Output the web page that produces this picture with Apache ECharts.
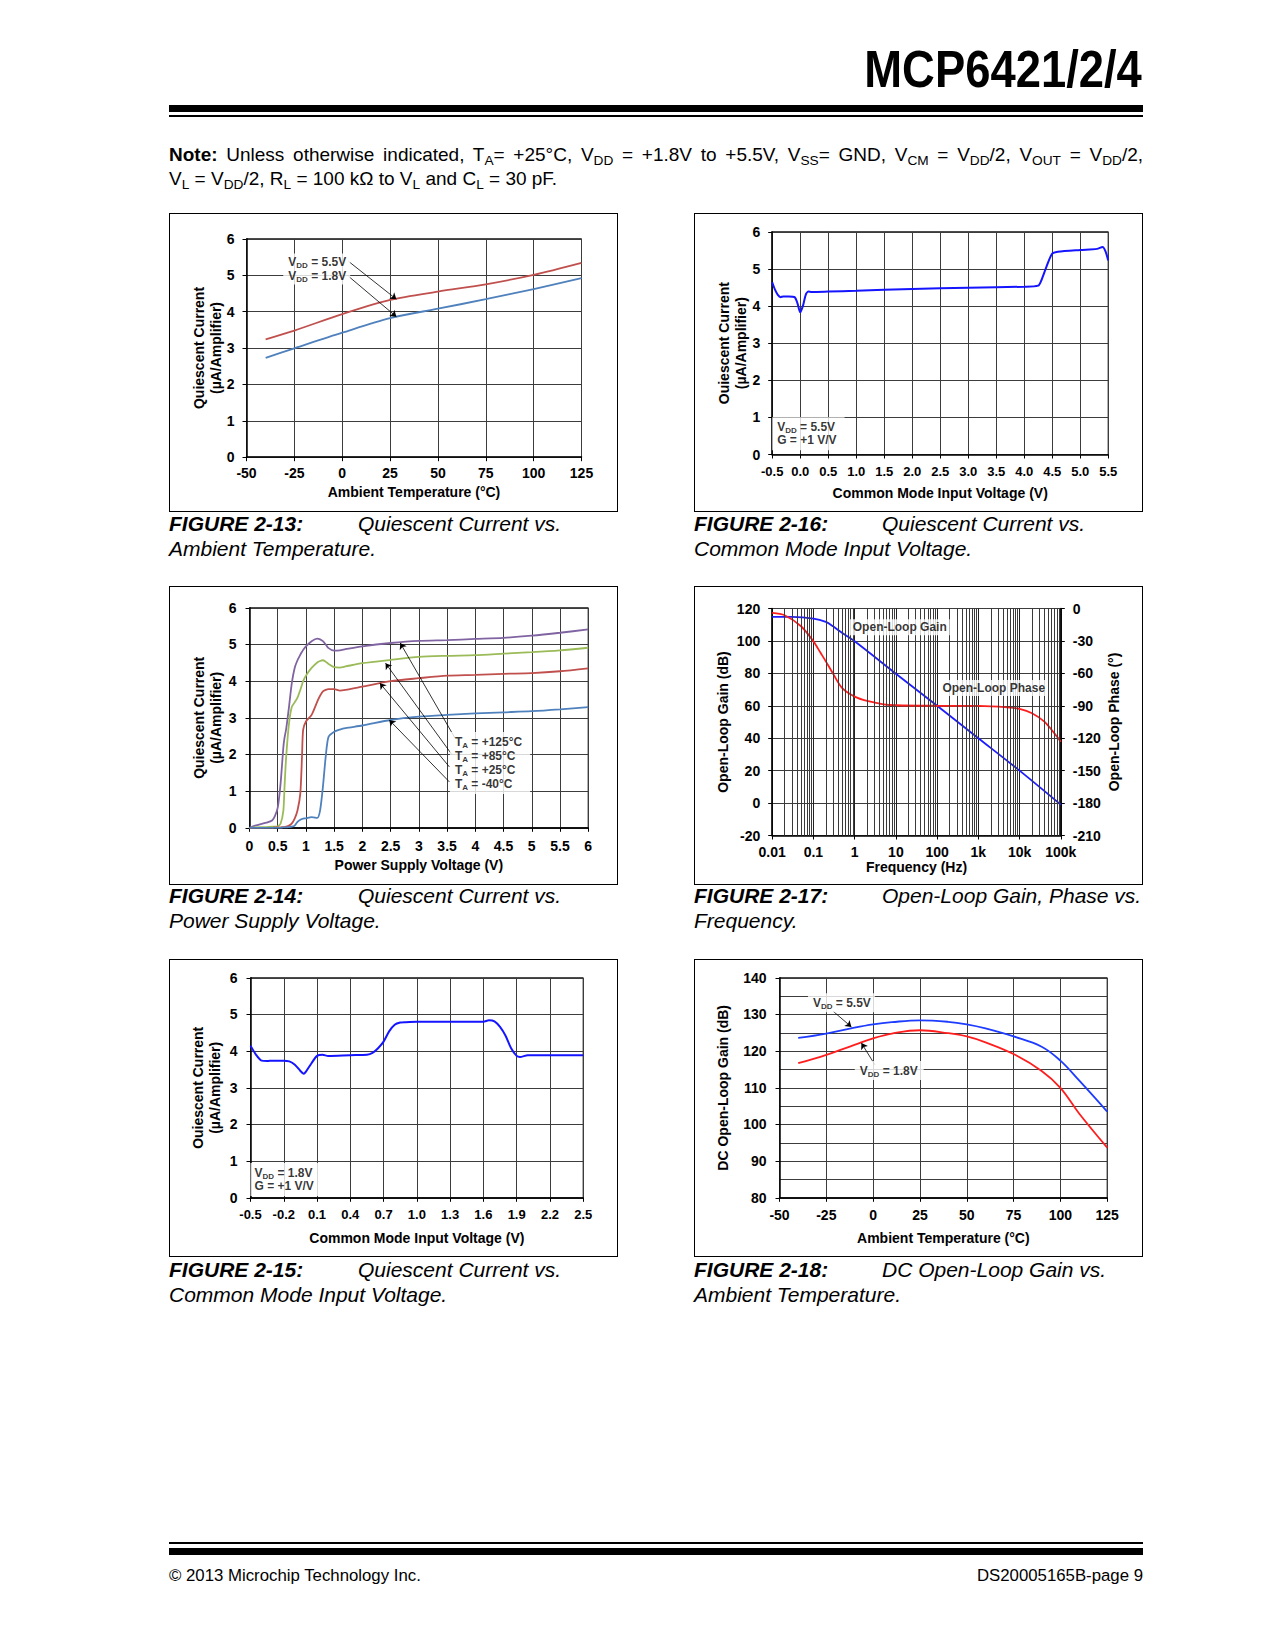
<!DOCTYPE html>
<html>
<head>
<meta charset="utf-8">
<script src="https://cdn.jsdelivr.net/npm/echarts@6/dist/echarts.min.js"></script>
<style>
  html,body{margin:0;padding:0;background:#fff;}
  body{width:1275px;height:1650px;position:relative;font-family:'Liberation Sans',Arial,Helvetica,sans-serif;color:#000;overflow:hidden;}
  .abs{position:absolute;}
  .rule{position:absolute;background:#000;left:169px;width:974px;}
  .box{position:absolute;border:1.5px solid #000;box-sizing:border-box;background:#fff;}
  .cap{position:absolute;font-size:21px;font-style:italic;line-height:25px;white-space:nowrap;}
  .cap b{font-weight:bold;}
  .note{position:absolute;left:169px;width:974px;font-size:19px;line-height:24px;}
  .note .j{text-align:justify;text-align-last:justify;white-space:nowrap;}
  sub{font-size:0.72em;vertical-align:-0.3em;line-height:0;}
  .title{position:absolute;right:133px;top:44px;font-size:51px;font-weight:bold;line-height:51px;transform:scaleX(0.89);transform-origin:right center;white-space:nowrap;}
  .foot{position:absolute;top:1566px;font-size:16.8px;line-height:20px;white-space:nowrap;}
</style>
</head>
<body>
<div class="title">MCP6421/2/4</div>
<div class="rule" style="top:105px;height:7px"></div>
<div class="rule" style="top:115px;height:2px"></div>

<div class="note" style="top:142.6px">
  <div class="j"><b>Note:</b> Unless otherwise indicated, T<sub>A</sub>= +25°C, V<sub>DD</sub> = +1.8V to +5.5V, V<sub>SS</sub>= GND, V<sub>CM</sub> = V<sub>DD</sub>/2, V<sub>OUT</sub> = V<sub>DD</sub>/2,</div>
  <div>V<sub>L</sub> = V<sub>DD</sub>/2, R<sub>L</sub> = 100 kΩ to V<sub>L</sub> and C<sub>L</sub> = 30 pF.</div>
</div>

<div id="c13" class="box" style="left:169px;top:213px;width:449px;height:299px"></div>
<div id="c16" class="box" style="left:694px;top:213px;width:449px;height:299px"></div>
<div id="c14" class="box" style="left:169px;top:586px;width:449px;height:299px"></div>
<div id="c17" class="box" style="left:694px;top:586px;width:449px;height:299px"></div>
<div id="c15" class="box" style="left:169px;top:959px;width:449px;height:298px"></div>
<div id="c18" class="box" style="left:694px;top:959px;width:449px;height:298px"></div>

<div class="cap" style="left:169px;top:510.5px"><b>FIGURE 2-13:</b><span class="abs" style="left:189px;top:0">Quiescent Current vs.</span><br>Ambient Temperature.</div>
<div class="cap" style="left:694px;top:510.5px"><b>FIGURE 2-16:</b><span class="abs" style="left:188px;top:0">Quiescent Current vs.</span><br>Common Mode Input Voltage.</div>
<div class="cap" style="left:169px;top:882.5px"><b>FIGURE 2-14:</b><span class="abs" style="left:189px;top:0">Quiescent Current vs.</span><br>Power Supply Voltage.</div>
<div class="cap" style="left:694px;top:882.5px"><b>FIGURE 2-17:</b><span class="abs" style="left:188px;top:0">Open-Loop Gain, Phase vs.</span><br>Frequency.</div>
<div class="cap" style="left:169px;top:1256.5px"><b>FIGURE 2-15:</b><span class="abs" style="left:189px;top:0">Quiescent Current vs.</span><br>Common Mode Input Voltage.</div>
<div class="cap" style="left:694px;top:1256.5px"><b>FIGURE 2-18:</b><span class="abs" style="left:188px;top:0">DC Open-Loop Gain vs.</span><br>Ambient Temperature.</div>

<div class="rule" style="top:1542px;height:2px"></div>
<div class="rule" style="top:1548px;height:7px"></div>
<div class="foot" style="left:169px">© 2013 Microchip Technology Inc.</div>
<div class="foot" style="right:132px">DS20005165B-page 9</div>

<script>
// ---------------- DATA ----------------
// Figure 2-13: Quiescent current vs ambient temperature
const f13Temp = [-40, -25, 0, 25, 50, 75, 100, 125];
const f13Vdd55 = [3.24, 3.48, 3.93, 4.32, 4.55, 4.75, 5.01, 5.34];
const f13Vdd18 = [2.73, 2.99, 3.42, 3.82, 4.08, 4.34, 4.62, 4.92];

// Figure 2-16: Quiescent current vs common mode input voltage (VDD = 5.5V)
const f16Vcm = [-0.5, -0.45, -0.4, -0.35, -0.3, -0.2, -0.1, -0.05, 0, 0.05, 0.1, 0.15, 0.2, 0.5, 1, 2, 3, 4, 4.25, 4.3, 4.4, 4.5, 4.6, 5, 5.3, 5.4, 5.45, 5.5];
const f16Iq = [4.64, 4.44, 4.3, 4.24, 4.26, 4.26, 4.24, 4.08, 3.83, 4.01, 4.31, 4.39, 4.38, 4.39, 4.41, 4.46, 4.49, 4.52, 4.55, 4.67, 5.07, 5.41, 5.46, 5.51, 5.54, 5.59, 5.48, 5.23];

// Figure 2-14: Quiescent current vs power supply voltage
const f14Vdd = [0, 0.1, 0.3, 0.4, 0.45, 0.5, 0.55, 0.6, 0.62, 0.65, 0.7, 0.75, 0.8, 0.85, 0.9, 0.93, 0.95, 1.0, 1.1, 1.2, 1.25, 1.3, 1.35, 1.4, 1.5, 1.6, 1.7, 2.0, 2.5, 3, 3.5, 4, 4.5, 5, 5.5, 6];
const f14T125 = [0, 0.06, 0.14, 0.2, 0.32, 0.55, 1.2, 2.2, 2.45, 2.7, 3.3, 3.95, 4.36, 4.57, 4.72, 4.8, 4.85, 4.95, 5.09, 5.16, 5.14, 5.09, 5.0, 4.9, 4.83, 4.84, 4.87, 4.95, 5.04, 5.1, 5.12, 5.15, 5.18, 5.24, 5.32, 5.41];
const f14T85 = [0, 0.01, 0.02, 0.03, 0.03, 0.04, 0.11, 0.47, 1.1, 1.94, 2.85, 3.3, 3.42, 3.55, 3.76, 3.9, 4.0, 4.15, 4.36, 4.51, 4.55, 4.57, 4.53, 4.47, 4.38, 4.37, 4.4, 4.49, 4.58, 4.66, 4.69, 4.71, 4.75, 4.79, 4.84, 4.91];
const f14T25 = [0, 0, 0, 0, 0.01, 0.01, 0.01, 0.02, 0.02, 0.03, 0.06, 0.12, 0.25, 0.47, 0.93, 1.94, 2.67, 2.9, 3.08, 3.44, 3.6, 3.72, 3.76, 3.78, 3.78, 3.74, 3.76, 3.85, 4.0, 4.08, 4.15, 4.17, 4.2, 4.22, 4.27, 4.35];
const f14Tm40 = [0, 0, 0, 0, 0, 0, 0, 0.01, 0.01, 0.01, 0.02, 0.03, 0.06, 0.16, 0.22, 0.24, 0.25, 0.26, 0.29, 0.27, 0.47, 1.11, 1.94, 2.48, 2.62, 2.68, 2.72, 2.79, 2.94, 3.03, 3.08, 3.12, 3.15, 3.18, 3.23, 3.29];

// Figure 2-17: Open-loop gain and phase vs frequency
const f17GainFreq = [0.01, 0.03, 0.1, 0.2, 0.3, 0.5, 1, 10, 100, 1000, 10000, 100000];
const f17Gain = [114.8, 114.8, 113.8, 111.7, 109, 104.9, 99.8, 79.8, 60, 40, 20, -1];
const f17PhaseFreq = [0.01, 0.02, 0.05, 0.1, 0.15, 0.2, 0.3, 0.5, 1, 2, 5, 10, 100, 1000, 5000, 10000, 20000, 40000, 70000, 100000];
const f17Phase = [-4, -6.2, -16.4, -30.4, -41.2, -48.9, -60.4, -73.7, -81.5, -85.5, -88.6, -89.5, -90, -90.1, -91.4, -92.9, -96.9, -104.7, -115.5, -123.3];
const f17TickLabels = ['0.01', '0.1', '1', '10', '100', '1k', '10k', '100k'];

// Figure 2-15: Quiescent current vs common mode input voltage (VDD = 1.8V)
const f15Vcm = [-0.5, -0.45, -0.4, -0.35, -0.3, -0.2, -0.15, -0.1, -0.05, -0.02, 0, 0.05, 0.1, 0.15, 0.2, 0.4, 0.55, 0.6, 0.65, 0.7, 0.75, 0.8, 0.85, 0.9, 1.0, 1.3, 1.6, 1.65, 1.7, 1.75, 1.8, 1.85, 1.9, 1.93, 2.0, 2.2, 2.5];
const f15Iq = [4.15, 3.9, 3.74, 3.73, 3.74, 3.74, 3.72, 3.63, 3.46, 3.38, 3.44, 3.67, 3.87, 3.9, 3.87, 3.89, 3.9, 3.95, 4.08, 4.26, 4.54, 4.72, 4.78, 4.79, 4.8, 4.8, 4.8, 4.84, 4.81, 4.66, 4.42, 4.08, 3.87, 3.84, 3.89, 3.89, 3.89];

// Figure 2-18: DC open-loop gain vs ambient temperature
const f18Temp = [-40, -25, -10, 0, 10, 25, 40, 50, 60, 75, 90, 100, 110, 125];
const f18Vdd55 = [123.6, 124.8, 126.4, 127.3, 127.9, 128.4, 128.0, 127.3, 126.2, 124.0, 121.2, 117.4, 112.0, 103.5];
const f18Vdd18 = [116.7, 119.0, 121.7, 123.5, 124.8, 125.7, 124.9, 124.0, 122.4, 119.2, 114.6, 110.0, 103.0, 93.7];

// ---------------- HELPERS ----------------
const FONT = "'Liberation Sans', Arial, Helvetica, sans-serif";
const LBL = {fontFamily: FONT, fontWeight: 'bold', fontSize: 14, color: '#000'};
const GRIDCOL = '#3c3c3c';

function merge(a, b) {
  const o = Object.assign({}, a);
  for (const k in b) {
    const v = b[k];
    if (v && typeof v === 'object' && !Array.isArray(v) && typeof v !== 'function' &&
        a && a[k] && typeof a[k] === 'object' && !Array.isArray(a[k])) o[k] = merge(a[k], v);
    else o[k] = v;
  }
  return o;
}
function axis(o) {
  return merge({
    type: 'value', nameLocation: 'middle', nameMoveOverlap: false,
    nameTextStyle: Object.assign({lineHeight: 17}, LBL),
    axisLine: {show: true, onZero: false, lineStyle: {color: '#000', width: 1.5}},
    axisTick: {show: true, inside: false, length: 4, lineStyle: {color: '#000', width: 1}},
    axisLabel: Object.assign({margin: 10, showMinLabel: true, showMaxLabel: true, hideOverlap: false}, LBL),
    splitLine: {show: true, lineStyle: {color: GRIDCOL, width: 1}}
  }, o);
}
function grid(l, r, t, b) {
  return {left: l, right: r, top: t, bottom: b, show: true, borderColor: '#000', borderWidth: 1,
          backgroundColor: '#fff', outerBoundsMode: 'none', containLabel: false};
}
function curve(xs, ys, color, width, extra) {
  return merge({
    type: 'line', data: xs.map((x, i) => [x, ys[i]]), symbol: 'none', showSymbol: false,
    smooth: 0.3, silent: true, z: 3, lineStyle: {color: color, width: width},
    emphasis: {disabled: true}
  }, extra || {});
}
function rich(size, lh) {
  return {
    v: {fontFamily: FONT, fontWeight: 'bold', fontSize: size, color: '#000', lineHeight: lh},
    s: {fontFamily: FONT, fontWeight: 'bold', fontSize: Math.round(size * 0.68), color: '#000',
        lineHeight: lh - 7, padding: [7, 0, 0, 0]}
  };
}
function sub(a, s, b) { return '{v|' + a + '}{s|' + s + '}{v|' + b + '}'; }
function annot(coord, text, size, lh, pad, arrows, extra) {
  const s = {
    type: 'scatter', data: [coord], symbolSize: 0, silent: true, z: 10,
    label: {show: true, position: 'right', distance: 0, formatter: text, rich: rich(size, lh),
            backgroundColor: '#fff', padding: pad, fontFamily: FONT, fontWeight: 'bold',
            fontSize: size, lineHeight: lh, color: '#000', align: 'left'},
    emphasis: {disabled: true}
  };
  if (arrows) {
    s.markLine = {
      silent: true, animation: false, symbol: ['none', 'arrow'], symbolSize: 6,
      label: {show: false}, emphasis: {disabled: true},
      lineStyle: {color: '#000', width: 0.8, type: 'solid'},
      data: arrows.map(a => [{coord: a[0]}, {coord: a[1]}])
    };
  }
  return Object.assign(s, extra || {});
}
function make(id, option) {
  const c = echarts.init(document.getElementById(id), null, {renderer: 'svg'});
  option.animation = false;
  c.setOption(option);
  return c;
}

// ---------------- FIGURE 2-13 ----------------
make('c13', {
  grid: grid(76.5, 35.5, 24.8, 53.8),
  xAxis: axis({min: -50, max: 125, interval: 25, name: 'Ambient Temperature (°C)', nameGap: 26, axisLabel: {margin: 9}}),
  yAxis: axis({min: 0, max: 6, interval: 1, name: 'Quiescent Current\n(µA/Amplifier)', nameRotate: 90, nameGap: 22, axisLabel: {margin: 12}}),
  series: [
    curve(f13Temp, f13Vdd55, '#C0504D', 1.8),
    curve(f13Temp, f13Vdd18, '#4F81BD', 1.8),
    annot([-30.8, 5.17], sub('V', 'DD', ' = 5.5V') + '\n' + sub('V', 'DD', ' = 1.8V'), 12, 14.5, [1, 4, 1, 5],
      [[[3.3, 5.38], [28.3, 4.34]], [[3.3, 4.97], [28.3, 3.86]]])
  ]
});

// ---------------- FIGURE 2-16 ----------------
make('c16', {
  grid: grid(77.2, 33.8, 17.8, 56.5),
  xAxis: axis({min: -0.5, max: 5.5, interval: 0.5, name: 'Common Mode Input Voltage (V)', nameGap: 30,
    axisLabel: {margin: 10, fontSize: 13, formatter: v => v.toFixed(1)}}),
  yAxis: axis({min: 0, max: 6, interval: 1, name: 'Ouiescent Current\n(µA/Amplifier)', nameRotate: 90, nameGap: 23, axisLabel: {margin: 12}}),
  series: [
    curve(f16Vcm, f16Iq, '#1414FF', 2, {smooth: 0.25}),
    annot([-0.5, 0.56], sub('V', 'DD', ' = 5.5V') + '\n{v|G = +1 V/V}', 12, 13.5, [3, 8, 3, 5])
  ]
});

// ---------------- FIGURE 2-14 ----------------
make('c14', {
  grid: grid(79.5, 28.8, 20.8, 56.2),
  xAxis: axis({min: 0, max: 6, interval: 0.5, name: 'Power Supply Voltage (V)', nameGap: 29, axisLabel: {margin: 11}}),
  yAxis: axis({min: 0, max: 6, interval: 1, name: 'Quiescent Current\n(µA/Amplifier)', nameRotate: 90, nameGap: 25, axisLabel: {margin: 13}}),
  series: [
    curve(f14Vdd, f14T125, '#8064A2', 1.8, {smooth: 0.25}),
    curve(f14Vdd, f14T85, '#9BBB59', 1.8, {smooth: 0.25}),
    curve(f14Vdd, f14T25, '#C0504D', 1.8, {smooth: 0.25}),
    curve(f14Vdd, f14Tm40, '#4F81BD', 1.8, {smooth: 0.25}),
    annot([3.55, 1.77],
      sub('T', 'A', ' = +125°C') + '\n' + sub('T', 'A', ' = +85°C') + '\n' + sub('T', 'A', ' = +25°C') + '\n' + sub('T', 'A', ' = -40°C'),
      12, 14, [3, 8, 3, 5],
      [[[3.643, 2.44], [2.67, 5.04]], [[3.584, 2.0], [2.41, 4.49]], [[3.542, 1.66], [2.31, 3.945]], [[3.542, 1.25], [2.476, 2.94]]])
  ]
});

// ---------------- FIGURE 2-17 ----------------
const f17Minor = [];
for (let k = -2; k <= 4; k++) for (let m = 2; m <= 9; m++) f17Minor.push(m * Math.pow(10, k));
make('c17', {
  grid: grid(77.2, 81.2, 21.5, 48.5),
  xAxis: axis({type: 'log', logBase: 10, min: 0.01, max: 100000, name: 'Frequency (Hz)', nameGap: 23,
    axisLabel: {margin: 9, formatter: v => f17TickLabels[Math.round(Math.log10(v)) + 2]},
    splitLine: {lineStyle: {color: '#222', width: 1}}}),
  yAxis: [
    axis({min: -20, max: 120, interval: 20, name: 'Open-Loop Gain (dB)', nameRotate: 90, nameGap: 41, axisLabel: {margin: 12}}),
    axis({min: -210, max: 0, interval: 30, position: 'right', name: 'Open-Loop Phase (°)', nameRotate: 90, nameGap: 45,
      splitLine: {show: false}, axisLabel: {margin: 12}})
  ],
  series: [
    {type: 'line', data: [], symbol: 'none', silent: true, z: 2,
     markLine: {silent: true, animation: false, symbol: 'none', label: {show: false}, emphasis: {disabled: true},
       lineStyle: {color: '#3a3a3a', width: 1, type: 'solid'}, data: f17Minor.map(v => ({xAxis: v}))}},
    curve(f17GainFreq, f17Gain, '#1E1EFF', 1.8, {yAxisIndex: 0, smooth: 0.3}),
    curve(f17PhaseFreq, f17Phase, '#FF1E1E', 1.8, {yAxisIndex: 1, smooth: 0.3}),
    annot([0.762, 108.4], '{v|Open-Loop Gain}', 12, 14, [1, 3, 1, 3], null, {yAxisIndex: 0}),
    annot([113.5, 70.9], '{v|Open-Loop Phase}', 12, 14, [1, 3, 1, 3], null, {yAxisIndex: 0})
  ]
});

// ---------------- FIGURE 2-15 ----------------
make('c15', {
  grid: grid(80.5, 33.8, 17.8, 58.2),
  xAxis: axis({min: -0.5, max: 2.5, interval: 0.3, name: 'Common Mode Input Voltage (V)', nameGap: 32,
    axisLabel: {margin: 10, fontSize: 13, formatter: v => v.toFixed(1)}}),
  yAxis: axis({min: 0, max: 6, interval: 1, name: 'Ouiescent Current\n(µA/Amplifier)', nameRotate: 90, nameGap: 27, axisLabel: {margin: 13}}),
  series: [
    curve(f15Vcm, f15Iq, '#1414FF', 2, {smooth: 0.25}),
    annot([-0.5, 0.5], sub('V', 'DD', ' = 1.8V') + '\n{v|G = +1 V/V}', 12, 13.5, [3, 8, 3, 4])
  ]
});

// ---------------- FIGURE 2-18 ----------------
make('c18', {
  grid: grid(84.5, 34.8, 17.8, 58.2),
  xAxis: axis({min: -50, max: 125, interval: 25, name: 'Ambient Temperature (°C)', nameGap: 32, axisLabel: {margin: 10}}),
  yAxis: axis({min: 80, max: 140, interval: 10, name: 'DC Open-Loop Gain (dB)', nameRotate: 90, nameGap: 48, axisLabel: {margin: 13},
    minorTick: {show: false, splitNumber: 2}, minorSplitLine: {show: true, lineStyle: {color: GRIDCOL, width: 1}}}),
  series: [
    curve(f18Temp, f18Vdd55, '#1E3CFF', 1.8, {smooth: 0.4}),
    curve(f18Temp, f18Vdd18, '#FF1E1E', 1.8, {smooth: 0.4}),
    annot([-34.8, 133.2], sub('V', 'DD', ' = 5.5V'), 12, 15, [2, 4, 2, 5], [[[-21.4, 130.9], [-11.6, 126.6]]]),
    annot([-9.8, 114.7], sub('V', 'DD', ' = 1.8V'), 12, 15, [2, 6, 2, 5], [[[0.9, 116.3], [-6.25, 122.2]]])
  ]
});
</script>
</body>
</html>
